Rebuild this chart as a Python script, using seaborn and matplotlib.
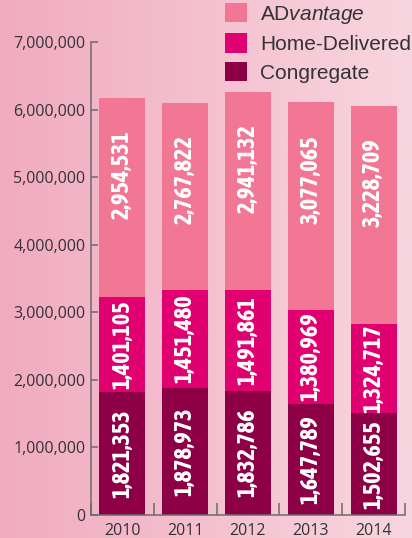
import matplotlib
matplotlib.use("Agg")
import matplotlib.pyplot as plt
import numpy as np
import pandas as pd
import seaborn as sns
from matplotlib.patches import Patch
from matplotlib.colors import LinearSegmentedColormap

YEARS = ["2010", "2011", "2012", "2013", "2014"]
CONGREGATE = [1821353, 1878973, 1832786, 1647789, 1502655]
HOME_DELIVERED = [1401105, 1451480, 1491861, 1380969, 1324717]
ADVANTAGE = [2954531, 2767822, 2941132, 3077065, 3228709]
SERIES = ["ADvantage", "Home-Delivered", "Congregate"]
Y_TICKS = [0, 1000000, 2000000, 3000000, 4000000, 5000000, 6000000, 7000000]

COLORS = {
    "ADvantage": "#F27795",
    "Home-Delivered": "#E0006F",
    "Congregate": "#8D0046",
}
BG_LEFT = "#F1ABC0"
BG_RIGHT = "#F8D6E0"
TEXT_COLOR = "#333333"
SPINE_COLOR = "#6b6b6b"


def build_frame() -> pd.DataFrame:
    df = pd.DataFrame(
        {
            "year": YEARS,
            "Congregate": CONGREGATE,
            "Home-Delivered": HOME_DELIVERED,
            "ADvantage": ADVANTAGE,
        }
    )
    df["cong_top"] = df["Congregate"]
    df["home_top"] = df["Congregate"] + df["Home-Delivered"]
    df["adv_top"] = df["home_top"] + df["ADvantage"]
    return df


def main() -> None:
    plt.rcParams["mathtext.fontset"] = "custom"
    plt.rcParams["mathtext.rm"] = "Liberation Sans"
    plt.rcParams["mathtext.it"] = "Liberation Sans:italic"

    df = build_frame()

    fig = plt.figure(figsize=(4.12, 5.38), dpi=100)

    # soft pink paper background
    bg = fig.add_axes([0, 0, 1, 1], zorder=-10)
    cmap = LinearSegmentedColormap.from_list("bg", [BG_LEFT, BG_RIGHT])
    bg.imshow(np.linspace(0, 1, 256).reshape(1, -1), aspect="auto", cmap=cmap,
              extent=[0, 1, 0, 1])
    bg.set_axis_off()

    ax = fig.add_axes([91 / 412, 23 / 538, 314 / 412, 473 / 538])
    ax.set_facecolor("none")

    # stacked bars: draw cumulative totals back to front
    for col, name in [("adv_top", "ADvantage"), ("home_top", "Home-Delivered"),
                      ("cong_top", "Congregate")]:
        sns.barplot(data=df, x="year", y=col, color=COLORS[name], saturation=1,
                    width=0.73, errorbar=None, ax=ax)

    px_per_unit = 473 / 7000000
    label_kw = dict(rotation=90, ha="center", va="center", color="white",
                    fontsize=17.5, fontweight=700,
                    family=["Asap Condensed", "DejaVu Sans"])
    for i, row in df.iterrows():
        ax.text(i, row["Congregate"] / 2, f"{row['Congregate']:,}", **label_kw)
        ax.text(i, row["cong_top"] + row["Home-Delivered"] / 2,
                f"{row['Home-Delivered']:,}", **label_kw)
        ax.text(i, row["adv_top"] - 77 / px_per_unit, f"{row['ADvantage']:,}",
                **label_kw)

    ax.set_ylim(0, 7000000)
    ax.set_xlim(-0.5, 4.5)
    ax.set_yticks(Y_TICKS)
    ax.set_yticklabels([f"{v:,}" for v in Y_TICKS])
    ax.set_xticks(range(len(YEARS)))
    ax.set_xticklabels(YEARS)
    ax.set_xticks(np.arange(-0.5, 5, 1), minor=True)
    ax.set_xlabel("")
    ax.set_ylabel("")

    for side in ["top", "right"]:
        ax.spines[side].set_visible(False)
    for side in ["left", "bottom"]:
        ax.spines[side].set_color(SPINE_COLOR)
        ax.spines[side].set_linewidth(1.1)

    ax.tick_params(axis="y", direction="in", length=5, width=1.1, color=SPINE_COLOR,
                   pad=4, labelsize=11.5, labelcolor=TEXT_COLOR)
    ax.tick_params(axis="x", which="major", length=0, pad=6, labelsize=11.5,
                   labelcolor=TEXT_COLOR)
    ax.tick_params(axis="x", which="minor", direction="in", length=9, width=1.1,
                   color=SPINE_COLOR)
    for lbl in ax.get_xticklabels() + ax.get_yticklabels():
        lbl.set_family(["Open Sans", "DejaVu Sans"])

    handles = [Patch(facecolor=COLORS[s], edgecolor="none") for s in SERIES]
    labels = [r"AD$\it{vantage}$", "Home-Delivered", "Congregate"]
    fig.legend(handles, labels, loc="upper left",
               bbox_to_anchor=(225 / 412, 1 - 3 / 538),
               frameon=False, borderpad=0, borderaxespad=0, handlelength=1.06,
               handleheight=1.06, handletextpad=0.62, labelspacing=0.36,
               prop={"family": "Liberation Sans", "size": 15},
               labelcolor=TEXT_COLOR)

    fig.savefig("out.png", dpi=100)
    plt.close(fig)


if __name__ == "__main__":
    main()
